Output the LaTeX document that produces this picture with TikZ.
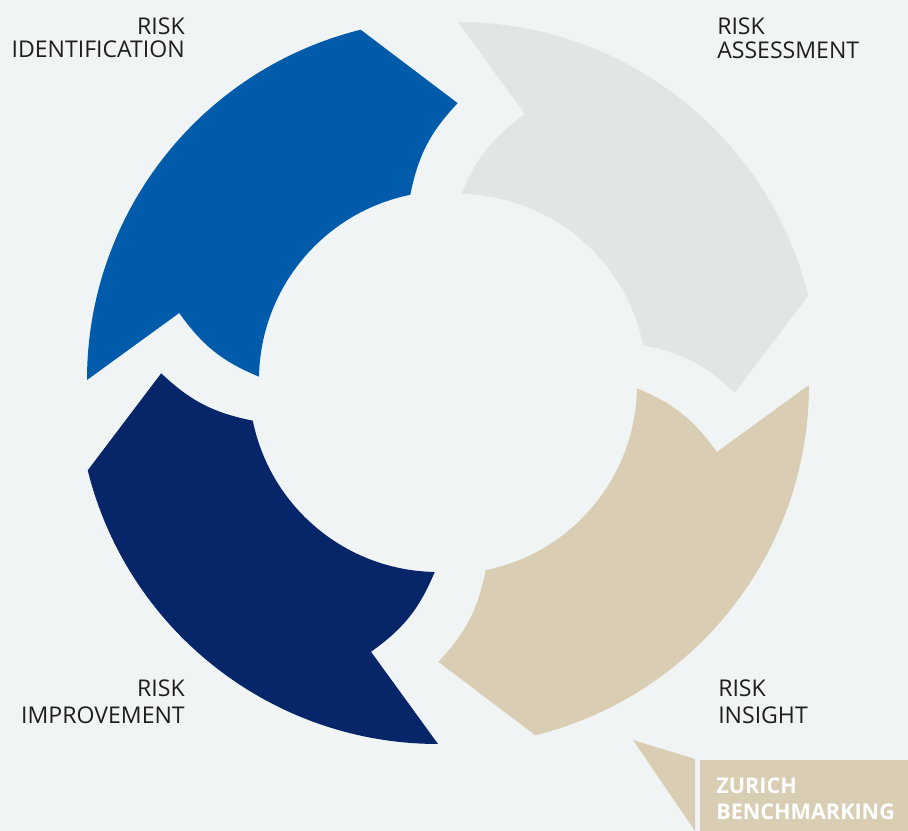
\documentclass[tikz,border=0pt]{standalone}
\usepackage{fontspec}
\setmainfont{Open Sans}
\definecolor{bgc}{HTML}{F0F4F5}
\definecolor{zblue}{HTML}{005BAA}
\definecolor{znavy}{HTML}{062669}
\definecolor{zgray}{HTML}{E0E6E6}
\definecolor{ztan}{HTML}{D9CEB3}
\definecolor{ztext}{HTML}{1E1E20}
\newcommand\ringseg[4]{%
  \begin{scope}[shift={(#1,#2)}]
    \pgfmathsetmacro\ta{#3}
    \pgfmathsetmacro\tb{#3-76}
    \pgfmathsetmacro\tc{#3-92}
    \pgfmathsetmacro\td{#3-78.5}
    \pgfmathsetmacro\te{#3-1}
    \pgfmathsetmacro\tf{#3-14}
    \fill[#4] (\ta:361) arc[start angle=\ta, end angle=\tb, radius=361]
      -- (\tc:277) to[bend right=16] (\td:189)
      arc[start angle=\td, end angle=\te, radius=189]
      to[bend left=16] (\tf:277) -- cycle;
  \end{scope}}
\tikzset{
  lab/.style={inner sep=0pt, text=ztext, font=\fontsize{17.3}{18}\selectfont},
  boxlab/.style={inner sep=0pt, text=white, font=\bfseries\fontsize{16.2}{17}\selectfont}
}
\begin{document}
\begin{tikzpicture}[x=0.75pt, y=0.75pt]
  \fill[bgc] (0,0) rectangle (908,831);
  \useasboundingbox (0,0) rectangle (908,831);
  % ring segments
  \ringseg{448}{451}{180}{zblue}
  \ringseg{458}{448}{90}{zgray}
  \ringseg{448}{446}{0}{ztan}
  \ringseg{438}{448}{-90}{znavy}
  % labels
  \node[lab, anchor=base east] (idA) at (185,796.7) {RISK};
  \node[lab, anchor=base east] (idB) at (185,773.3) {IDENTIFICATION};
  \node[lab, anchor=base west] (asA) at (717,796.7) {RISK};
  \node[lab, anchor=base west] (asB) at (717,772.7) {ASSESSMENT};
  \node[lab, anchor=base west] (inA) at (718,134.3) {RISK};
  \node[lab, anchor=base west] (inB) at (718,107.7) {INSIGHT};
  \node[lab, anchor=base east] (imA) at (185,134.3) {RISK};
  \node[lab, anchor=base east] (imB) at (185,107.7) {IMPROVEMENT};
  % Zurich benchmarking callout
  \fill[ztan] (633,91) -- (695,72) -- (695,0) -- cycle;
  \fill[ztan] (700,0) rectangle (908,71);
  \node[boxlab, anchor=base west] (zbA) at (716,37) {ZURICH};
  \node[boxlab, anchor=base west] (zbB) at (716,11) {BENCHMARKING};
\end{tikzpicture}
\end{document}
